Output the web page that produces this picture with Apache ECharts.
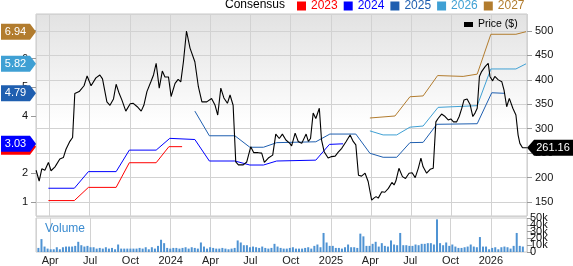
<!DOCTYPE html>
<html><head><meta charset="utf-8">
<script src="https://cdn.jsdelivr.net/npm/echarts@6/dist/echarts.min.js"></script>
<style>html,body{margin:0;padding:0;background:#fff}#c{width:573px;height:266px}</style>
</head><body><div id="c"></div>
<script>
// All x values are days since 2023-01-01
const axisStartDay = 59.8, axisEndDay = 1176.2;

const priceDay = [60,67,73,80,88,94,103,114,122,128,136,143,148,158,169,176,185,196,205,211,221,228,236,242,249,255,264,274,281,290,299,305,312,321,327,333,340,347,353,361,367,376,383,389,395,402,410,421,429,437,448,459,467,473,480,487,495,501,508,514,520,531,539,548,555,565,573,579,588,598,605,613,620,628,637,641,649,656,664,674,679,684,690,696,704,709,715,724,732,740,747,755,765,774,781,787,793,800,808,815,823,828,833,838,846,853,861,869,874,878,885,893,900,908,915,922,929,935,940,948,956,963,969,974,982,990,997,1003,1009,1016,1022,1028,1033,1040,1047,1053,1058,1063,1068,1073,1081,1088,1092,1098,1103,1111,1119,1124,1130,1136,1144,1151,1156,1160,1166,1176];
const priceVal = [215,193,218,215,231,214,222,238,241,258,273,282,372,376,388,408,388,404,410,402,355,348,361,391,372,359,336,351,352,345,336,348,376,396,410,434,383,418,406,406,366,393,401,396,437,500,465,437,386,355,355,362,348,328,383,363,352,369,348,232,226,226,232,263,251,251,250,231,240,246,289,280,289,277,270,265,291,274,270,289,274,280,332,321,342,277,253,240,243,244,252,260,274,287,274,267,205,203,209,192,154,158,161,158,171,170,178,190,185,193,219,202,198,209,210,200,219,240,222,209,217,219,314,321,330,325,318,320,314,314,325,342,359,361,349,325,332,342,407,417,427,434,407,398,407,400,396,379,345,362,342,328,287,270,261,261.16];

const consensusYears = ['2023','2024','2025','2026','2027'];
const eps2023Day = [88,147,179,242,272,333,362,392];
const eps2023Val = [1.05,1.05,1.51,1.51,2.37,2.37,2.93,2.93];
const eps2024Day = [88,147,179,242,272,333,364,421,454,512,546,577,607,696,727,758];
const eps2024Val = [1.48,1.48,2.06,2.06,2.81,2.81,3.22,3.18,2.43,2.43,2.29,2.29,2.43,2.46,3.01,3.03];
const eps2025Day = [421,454,512,546,577,607,696,728,787,819,849,880,910,940,971,1063,1096,1126];
const eps2025Val = [4.17,3.31,3.31,2.91,2.91,3.07,3.10,3.37,3.37,2.70,2.56,2.56,3.07,3.08,3.71,3.73,4.81,4.79];
const eps2026Day = [819,849,880,910,940,974,1063,1094,1151,1174];
const eps2026Val = [3.48,3.34,3.34,3.61,3.65,4.30,4.36,5.64,5.64,5.82];
const eps2027Day = [819,876,910,940,973,1031,1063,1094,1151,1174];
const eps2027Val = [3.93,4.00,4.67,4.70,5.41,5.38,5.46,6.85,6.85,6.94];

// weekly volume (thousands), first bar on volStartDay
const volStartDay = 63, volStepDays = 7;
const volumeK = [6,19,8,5,4,4,7,4,7,8, 8,8,9,15,10,8,9,7,7,5, 6,5,7,5,6,4,11,5,5,5, 5,5,5,6,5,7,4,7,5,9, 18,13,6,5,6,6,5,6,7,5, 7,6,5,14,8,5,7,6,5,5, 6,5,4,5,6,17,14,10,10,7, 8,7,6,8,6,5,6,12,8,6, 5,5,6,7,5,5,5,6,7,5, 9,11,7,28,14,9,9,6,6,5, 7,11,7,7,6,27,23,9,9,12, 15,8,13,9,8,17,11,10,28,10, 10,9,9,11,10,12,12,13,13,11, 48,13,10,14,9,11,8,6,6,7, 8,11,8,7,22,8,8,4,6,7, 4,7,8,7,5,9,28,9,8];
// volume tick labels (thousands), split into two interleaved sets
const volTicksA = [0, 20, 40];
const volTicksB = [10, 30, 50];

// styles
const FONT = '"Liberation Sans", Arial, Helvetica, sans-serif';
const consColors = ['#ff0000','#0000ff','#1f5fb0','#3fa0d4','#b27c2e'];
const gridColor = '#d2d2d2';
const monthNames = ['Jan','Feb','Mar','Apr','May','Jun','Jul','Aug','Sep','Oct','Nov','Dec'];

const DAY = 86400000, T0 = Date.UTC(2023,0,1);
const t = d => T0 + d * DAY;
const zip = (days, vals) => days.map((d, i) => [t(d), vals[i]]);
const epsDays = [eps2023Day, eps2024Day, eps2025Day, eps2026Day, eps2027Day];
const epsVals = [eps2023Val, eps2024Val, eps2025Val, eps2026Val, eps2027Val];

const flagLeft = 'path://M0,0L29,0L35,8L29,16L0,16Z';
const flagRight = 'path://M0,8L7,0L46,0L46,16L7,16Z';

const consSeries = consensusYears.map((yr, i) => {
  const vals = epsVals[i];
  const last = vals[vals.length - 1];
  return {
    name: yr, type: 'line', xAxisIndex: 0, yAxisIndex: 0,
    showSymbol: false, symbol: 'none', silent: true, z: 3 + i,
    data: zip(epsDays[i], vals),
    lineStyle: { color: consColors[i], width: 1 },
    itemStyle: { color: consColors[i] },
    markPoint: {
      symbol: flagLeft, symbolSize: [35, 16], symbolOffset: [-17.5, 0],
      silent: true, z: 10 + i, animation: false,
      itemStyle: { color: consColors[i] },
      label: { show: true, color: '#fff', fontSize: 11, fontFamily: FONT, offset: [-3, 0],
               formatter: () => last.toFixed(2) },
      data: [{ coord: [t(axisStartDay), last], value: last }]
    }
  };
});

const lastPrice = priceVal[priceVal.length - 1];
const priceSeries = {
  name: 'Price ($)', type: 'line', xAxisIndex: 0, yAxisIndex: 1,
  showSymbol: false, symbol: 'none', silent: true, z: 9,
  data: zip(priceDay, priceVal),
  lineStyle: { color: '#000', width: 1.1 },
  itemStyle: { color: '#000' },
  markPoint: {
    symbol: flagRight, symbolSize: [46, 16], symbolOffset: [23, 0],
    silent: true, z: 20, animation: false,
    itemStyle: { color: '#000' },
    label: { show: true, color: '#fff', fontSize: 11, fontFamily: FONT, offset: [3, 0],
             formatter: () => lastPrice.toFixed(2) },
    data: [{ coord: [t(axisEndDay), lastPrice], value: lastPrice }]
  }
};

const volSeries = {
  name: 'Volume', type: 'bar', xAxisIndex: 1, yAxisIndex: 2, silent: true,
  barWidth: 2,
  data: volumeK.map((v, i) => [t(volStartDay + i * volStepDays), v]),
  itemStyle: { color: '#4f93d3' }
};

const xLabelFmt = v => { const d = new Date(v); const m = d.getUTCMonth(); return m === 0 ? String(d.getUTCFullYear()) : monthNames[m]; };
const volFmt = v => v === 0 ? '0' : v + 'k';
const QUARTER = 92 * DAY;

const volAxis = (ticks) => ({
  type: 'value', gridIndex: 1, position: 'right', min: 0, max: 50,
  axisLine: { show: false },
  axisTick: { show: true, length: 5, customValues: ticks, lineStyle: { color: '#999' } },
  axisLabel: { fontSize: 11, color: '#111', margin: 3, customValues: ticks, hideOverlap: false,
               formatter: volFmt },
  splitLine: { show: false }
});

const chart = echarts.init(document.getElementById('c'), null, { renderer: 'canvas' });
chart.setOption({
  animation: false,
  useUTC: true,
  textStyle: { fontFamily: FONT },
  title: [
    { text: 'Consensus', left: 225, top: -1, padding: 0,
      textStyle: { fontSize: 12, fontWeight: 'normal', color: '#000', fontFamily: FONT } },
    { text: 'Volume', left: 45, top: 223, padding: 0,
      textStyle: { fontSize: 12, fontWeight: 'normal', color: '#3a8bd0', fontFamily: FONT } }
  ],
  legend: [
    { data: consensusYears.map((y, i) => ({ name: y, textStyle: { color: consColors[i] } })),
      left: 297, top: 0, padding: 0, itemGap: 6, itemWidth: 9, itemHeight: 9, icon: 'rect',
      selectedMode: false, textStyle: { fontSize: 12, fontFamily: FONT } },
    { data: ['Price ($)'], left: 464, top: 19, padding: 0, itemWidth: 9, itemHeight: 5, icon: 'rect',
      selectedMode: false, textStyle: { fontSize: 10.5, color: '#000', fontFamily: FONT } }
  ],
  grid: [
    { left: 36, right: 46, top: 14, height: 202, show: true, borderColor: '#c8c8c8', borderWidth: 1,
      backgroundColor: new echarts.graphic.LinearGradient(0, 0, 0, 1, [
        { offset: 0, color: '#e2e2e2' }, { offset: 0.55, color: '#ffffff' }, { offset: 1, color: '#ffffff' }]) },
    { left: 36, right: 46, top: 218, height: 36, show: true, borderColor: '#c8c8c8', borderWidth: 1,
      backgroundColor: '#ffffff' }
  ],
  xAxis: [
    { type: 'time', gridIndex: 0, min: t(axisStartDay), max: t(axisEndDay),
      minInterval: QUARTER, maxInterval: QUARTER,
      axisLine: { show: false }, axisTick: { show: false }, axisLabel: { show: false },
      splitLine: { show: true, lineStyle: { color: gridColor, width: 1 } } },
    { type: 'time', gridIndex: 1, min: t(axisStartDay), max: t(axisEndDay),
      minInterval: QUARTER, maxInterval: QUARTER,
      axisLine: { show: false }, axisTick: { show: false },
      axisLabel: { show: true, formatter: xLabelFmt, fontSize: 11, color: '#222', margin: 3,
                   showMinLabel: false, showMaxLabel: false, hideOverlap: false },
      splitLine: { show: true, lineStyle: { color: gridColor, width: 1 } } }
  ],
  yAxis: [
    { type: 'value', gridIndex: 0, position: 'left', min: 0.512, max: 7.557,
      minInterval: 1, maxInterval: 1,
      axisLine: { show: false }, axisTick: { show: true, length: 5, lineStyle: { color: '#999' } },
      axisLabel: { fontSize: 11, color: '#111', showMinLabel: false, showMaxLabel: false, margin: 8 },
      splitLine: { show: false } },
    { type: 'value', gridIndex: 0, position: 'right', min: 121.4, max: 534.8,
      minInterval: 50, maxInterval: 50,
      axisLine: { show: false }, axisTick: { show: true, length: 5, lineStyle: { color: '#999' } },
      axisLabel: { fontSize: 11, color: '#111', showMinLabel: false, showMaxLabel: false, margin: 8 },
      splitLine: { show: true, lineStyle: { color: gridColor, width: 1 } } },
    volAxis(volTicksA),
    volAxis(volTicksB)
  ],
  series: [volSeries, ...consSeries, priceSeries]
});
</script></body></html>
